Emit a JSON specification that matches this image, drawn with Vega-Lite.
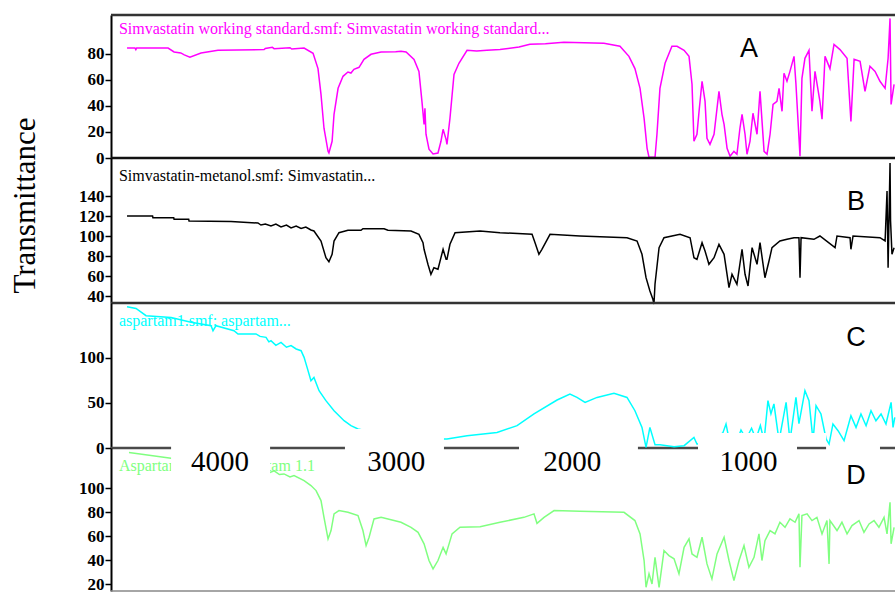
{
  "$schema": "https://vega.github.io/schema/vega-lite/v6.json",
  "padding": {"left": 8, "top": 13, "right": 0, "bottom": 0},
  "background": "white",
  "spacing": 0,
  "bounds": "flush",
  "config": {
    "view": {"stroke": null},
    "axis": {"grid": false, "domainColor": "#000", "domainWidth": 2, "tickColor": "#000", "tickWidth": 1.5, "tickSize": 6, "labelFont": "Liberation Serif", "labelFontSize": 17, "labelFontWeight": "bold", "labelColor": "#000", "labelPadding": 1, "labelOverlap": false, "labelFlush": false}
  },
  "datasets": {
    "A": [
      {"w":4525,"t":84.3},{"w":4480,"t":84.3},{"w":4475,"t":83},{"w":4470,"t":84.3},{"w":4292,"t":84.3},{"w":4258,"t":81.3},{"w":4220,"t":80.5},{"w":4200,"t":79},{"w":4168,"t":77.2},{"w":4105,"t":80.5},{"w":4009,"t":82.5},{"w":3747,"t":83.1},{"w":3740,"t":84},{"w":3700,"t":84.8},{"w":3690,"t":83.8},{"w":3600,"t":84.5},{"w":3590,"t":83.5},{"w":3520,"t":84.3},{"w":3469,"t":80.2},{"w":3441,"t":68.5},{"w":3424,"t":48.8},{"w":3407,"t":22.8},{"w":3384,"t":5.1},{"w":3379,"t":3.8},{"w":3361,"t":12.8},{"w":3350,"t":33.5},{"w":3327,"t":53.4},{"w":3299,"t":62.6},{"w":3271,"t":65.9},{"w":3254,"t":65.1},{"w":3237,"t":68},{"w":3208,"t":69.5},{"w":3180,"t":75.6},{"w":3140,"t":79.5},{"w":3083,"t":81.2},{"w":3000,"t":81.5},{"w":2970,"t":81.8},{"w":2941,"t":81.2},{"w":2896,"t":75.6},{"w":2868,"t":66.4},{"w":2851,"t":43.4},{"w":2839,"t":25.8},{"w":2834,"t":38.1},{"w":2828,"t":18.2},{"w":2811,"t":6.7},{"w":2788,"t":3.1},{"w":2760,"t":3.8},{"w":2743,"t":12.8},{"w":2731,"t":22},{"w":2714,"t":14.3},{"w":2709,"t":10.5},{"w":2692,"t":30.4},{"w":2669,"t":64.1},{"w":2641,"t":72.6},{"w":2595,"t":82.5},{"w":2540,"t":82},{"w":2482,"t":82.5},{"w":2408,"t":83.1},{"w":2300,"t":85},{"w":2238,"t":87.1},{"w":2150,"t":87.5},{"w":2045,"t":88.7},{"w":1818,"t":87.9},{"w":1727,"t":85.6},{"w":1676,"t":77.9},{"w":1642,"t":68.5},{"w":1613,"t":53.4},{"w":1590,"t":30.4},{"w":1573,"t":7.4},{"w":1562,"t":0.5},{"w":1528,"t":0.5},{"w":1517,"t":18.2},{"w":1500,"t":53.4},{"w":1471,"t":72.6},{"w":1432,"t":85.6},{"w":1403,"t":85.6},{"w":1363,"t":82.5},{"w":1335,"t":77.9},{"w":1318,"t":56.5},{"w":1307,"t":12.8},{"w":1290,"t":18.2},{"w":1278,"t":35.8},{"w":1261,"t":58.8},{"w":1244,"t":43.4},{"w":1233,"t":15.1},{"w":1216,"t":10.5},{"w":1193,"t":18.2},{"w":1165,"t":51.1},{"w":1148,"t":33.5},{"w":1136,"t":25.8},{"w":1119,"t":7.4},{"w":1102,"t":1.3},{"w":1080,"t":5.1},{"w":1063,"t":2.9},{"w":1046,"t":22.8},{"w":1034,"t":33.5},{"w":1017,"t":18.2},{"w":1006,"t":2.9},{"w":989,"t":12.8},{"w":972,"t":34.3},{"w":949,"t":18.2},{"w":932,"t":51.1},{"w":909,"t":5.1},{"w":892,"t":2.9},{"w":875,"t":18.2},{"w":858,"t":41.1},{"w":836,"t":43.4},{"w":824,"t":53.4},{"w":807,"t":35.8},{"w":796,"t":64.9},{"w":779,"t":58.8},{"w":762,"t":66.4},{"w":739,"t":77.9},{"w":728,"t":56.5},{"w":705,"t":1.3},{"w":694,"t":61.1},{"w":677,"t":76.4},{"w":654,"t":82.5},{"w":637,"t":35.8},{"w":620,"t":66.4},{"w":592,"t":43.4},{"w":580,"t":29.7},{"w":563,"t":77.9},{"w":535,"t":68.5},{"w":512,"t":87.1},{"w":478,"t":83.1},{"w":438,"t":76.4},{"w":416,"t":28.1},{"w":398,"t":75.6},{"w":364,"t":74.1},{"w":336,"t":51.1},{"w":308,"t":70.3},{"w":279,"t":66.4},{"w":251,"t":58.8},{"w":222,"t":53.4},{"w":205,"t":76.4},{"w":194,"t":107},{"w":188,"t":41.1},{"w":171,"t":56.5}
    ],
    "B": [
      {"w":4525,"t":120},{"w":4380,"t":120},{"w":4378,"t":118.3},{"w":4260,"t":118.3},{"w":4258,"t":116.7},{"w":4175,"t":116.7},{"w":4173,"t":115},{"w":3935,"t":114.5},{"w":3782,"t":113},{"w":3765,"t":111},{"w":3740,"t":112},{"w":3708,"t":110},{"w":3680,"t":112},{"w":3651,"t":109},{"w":3620,"t":111},{"w":3594,"t":108},{"w":3565,"t":110},{"w":3537,"t":107.5},{"w":3510,"t":109},{"w":3481,"t":106},{"w":3464,"t":105},{"w":3424,"t":95},{"w":3396,"t":78.3},{"w":3379,"t":74.3},{"w":3361,"t":81.7},{"w":3350,"t":95},{"w":3322,"t":103.3},{"w":3271,"t":105.7},{"w":3197,"t":105.7},{"w":3186,"t":107.3},{"w":3066,"t":107.3},{"w":3044,"t":105.7},{"w":2913,"t":105},{"w":2868,"t":101.7},{"w":2845,"t":93.3},{"w":2839,"t":86.7},{"w":2817,"t":71.7},{"w":2800,"t":61.7},{"w":2783,"t":68.3},{"w":2760,"t":66.7},{"w":2731,"t":86.7},{"w":2714,"t":76.7},{"w":2709,"t":76.7},{"w":2692,"t":91.7},{"w":2663,"t":103.3},{"w":2521,"t":105},{"w":2408,"t":103.3},{"w":2226,"t":101.7},{"w":2209,"t":93.3},{"w":2187,"t":81.7},{"w":2170,"t":86.7},{"w":2124,"t":101.7},{"w":1954,"t":100},{"w":1687,"t":98.3},{"w":1630,"t":95},{"w":1602,"t":81.7},{"w":1579,"t":58.3},{"w":1557,"t":45},{"w":1540,"t":36.7},{"w":1534,"t":32},{"w":1528,"t":52},{"w":1505,"t":88.3},{"w":1477,"t":98.3},{"w":1386,"t":101.7},{"w":1329,"t":98.3},{"w":1307,"t":78.3},{"w":1290,"t":76.7},{"w":1261,"t":93.3},{"w":1244,"t":85},{"w":1222,"t":71.7},{"w":1193,"t":78.3},{"w":1165,"t":91.7},{"w":1136,"t":81.7},{"w":1108,"t":48.3},{"w":1091,"t":61.7},{"w":1063,"t":51.7},{"w":1034,"t":86.7},{"w":1017,"t":61.7},{"w":1000,"t":50},{"w":977,"t":88.3},{"w":949,"t":71.7},{"w":932,"t":93.3},{"w":904,"t":58.3},{"w":881,"t":75},{"w":864,"t":88.3},{"w":819,"t":95},{"w":779,"t":96.7},{"w":739,"t":98.3},{"w":711,"t":98.3},{"w":705,"t":58.3},{"w":699,"t":98.3},{"w":626,"t":96.7},{"w":592,"t":100},{"w":506,"t":88.3},{"w":495,"t":100},{"w":421,"t":98.3},{"w":416,"t":86.7},{"w":404,"t":100},{"w":251,"t":98.3},{"w":222,"t":95},{"w":211,"t":145},{"w":205,"t":68.3},{"w":194,"t":173},{"w":191,"t":115},{"w":183,"t":81.7},{"w":171,"t":88.3}
    ],
    "C": [
      {"w":4525,"t":157},{"w":4474,"t":155},{"w":4417,"t":147},{"w":4275,"t":145},{"w":4162,"t":139.6},{"w":4048,"t":135.9},{"w":4037,"t":130.3},{"w":4020,"t":135.9},{"w":3918,"t":130.3},{"w":3895,"t":126.7},{"w":3793,"t":126.7},{"w":3770,"t":124},{"w":3736,"t":122.9},{"w":3720,"t":118},{"w":3708,"t":119.2},{"w":3680,"t":114},{"w":3651,"t":117.3},{"w":3620,"t":112},{"w":3594,"t":113.7},{"w":3565,"t":110},{"w":3537,"t":108.1},{"w":3520,"t":100.7},{"w":3503,"t":89.6},{"w":3481,"t":74.8},{"w":3464,"t":78.4},{"w":3435,"t":63.7},{"w":3396,"t":52.6},{"w":3350,"t":41.4},{"w":3293,"t":30.3},{"w":3254,"t":24.8},{"w":3214,"t":21.1},{"w":3000,"t":12},{"w":2726,"t":10},{"w":2709,"t":10},{"w":2595,"t":13.7},{"w":2425,"t":17.3},{"w":2311,"t":24.8},{"w":2215,"t":37.8},{"w":2084,"t":53.3},{"w":2011,"t":60},{"w":1971,"t":56.2},{"w":1925,"t":50.7},{"w":1857,"t":56.2},{"w":1761,"t":60.7},{"w":1687,"t":56.2},{"w":1642,"t":41.4},{"w":1602,"t":22.9},{"w":1579,"t":0.7},{"w":1557,"t":22.9},{"w":1528,"t":3.7},{"w":1500,"t":3.7},{"w":1420,"t":1.4},{"w":1363,"t":2.6},{"w":1307,"t":11.8},{"w":1290,"t":4.4},{"w":1210,"t":5},{"w":1142,"t":17.3},{"w":1125,"t":26.7},{"w":1108,"t":10},{"w":1068,"t":5},{"w":1040,"t":20},{"w":1011,"t":10},{"w":980,"t":22},{"w":955,"t":10},{"w":930,"t":25},{"w":909,"t":8},{"w":887,"t":52.6},{"w":870,"t":38},{"w":853,"t":49},{"w":824,"t":8},{"w":784,"t":50.7},{"w":762,"t":8},{"w":728,"t":56.2},{"w":711,"t":27},{"w":677,"t":63.7},{"w":654,"t":52.6},{"w":631,"t":8},{"w":614,"t":47},{"w":586,"t":37.8},{"w":557,"t":10},{"w":540,"t":4.4},{"w":518,"t":26.7},{"w":489,"t":19.2},{"w":455,"t":8.1},{"w":416,"t":35.9},{"w":387,"t":22.9},{"w":359,"t":37.8},{"w":330,"t":24.8},{"w":302,"t":41.4},{"w":274,"t":30.3},{"w":245,"t":37.8},{"w":217,"t":26.7},{"w":188,"t":50.7},{"w":177,"t":22.9},{"w":167,"t":34}
    ],
    "D": [
      {"w":4514,"t":129.8},{"w":4420,"t":128},{"w":4275,"t":125},{"w":3900,"t":118},{"w":3713,"t":113.3},{"w":3690,"t":114.5},{"w":3660,"t":111.5},{"w":3634,"t":112},{"w":3600,"t":109.5},{"w":3577,"t":110.6},{"w":3520,"t":106.4},{"w":3481,"t":102.3},{"w":3452,"t":98.1},{"w":3424,"t":89.8},{"w":3407,"t":75.8},{"w":3384,"t":57.8},{"w":3367,"t":64.8},{"w":3350,"t":78.7},{"w":3322,"t":81.4},{"w":3271,"t":80},{"w":3214,"t":77.3},{"w":3186,"t":64.8},{"w":3168,"t":52.3},{"w":3151,"t":59.2},{"w":3123,"t":74.5},{"w":3083,"t":75.8},{"w":2970,"t":71.7},{"w":2913,"t":67.5},{"w":2873,"t":63.3},{"w":2839,"t":53.7},{"w":2811,"t":39.8},{"w":2788,"t":32.8},{"w":2760,"t":39.8},{"w":2731,"t":50.8},{"w":2714,"t":45.3},{"w":2697,"t":53.7},{"w":2680,"t":62},{"w":2635,"t":67.5},{"w":2521,"t":68},{"w":2408,"t":71.7},{"w":2272,"t":75.8},{"w":2215,"t":78.7},{"w":2198,"t":70.8},{"w":2158,"t":75.8},{"w":2101,"t":81.4},{"w":1954,"t":80.8},{"w":1704,"t":80},{"w":1642,"t":73.1},{"w":1613,"t":62},{"w":1590,"t":39.8},{"w":1579,"t":17.5},{"w":1562,"t":28.7},{"w":1545,"t":20.3},{"w":1528,"t":42.5},{"w":1505,"t":17.5},{"w":1477,"t":48.1},{"w":1449,"t":43.9},{"w":1420,"t":41.2},{"w":1392,"t":28.7},{"w":1363,"t":50.8},{"w":1335,"t":57.8},{"w":1318,"t":45.3},{"w":1290,"t":42.5},{"w":1261,"t":59.2},{"w":1233,"t":37},{"w":1205,"t":24.5},{"w":1176,"t":45.3},{"w":1136,"t":59.2},{"w":1108,"t":39.8},{"w":1080,"t":23.1},{"w":1051,"t":39.8},{"w":1023,"t":52.3},{"w":995,"t":34.2},{"w":966,"t":42.5},{"w":938,"t":62},{"w":921,"t":39.8},{"w":904,"t":56.4},{"w":875,"t":64.8},{"w":847,"t":62},{"w":819,"t":71.7},{"w":790,"t":67.5},{"w":762,"t":74.5},{"w":733,"t":71.7},{"w":711,"t":78.7},{"w":705,"t":34.2},{"w":694,"t":77.3},{"w":665,"t":78.7},{"w":637,"t":73.1},{"w":609,"t":75.8},{"w":580,"t":62},{"w":552,"t":73.1},{"w":540,"t":37},{"w":535,"t":73.1},{"w":495,"t":64.8},{"w":467,"t":71.7},{"w":438,"t":62},{"w":410,"t":68.9},{"w":370,"t":73.1},{"w":342,"t":63.3},{"w":313,"t":70.3},{"w":285,"t":73.1},{"w":257,"t":67.5},{"w":228,"t":75.8},{"w":211,"t":62},{"w":194,"t":88.3},{"w":188,"t":53.7},{"w":171,"t":67.5}
    ]
  },
  "vconcat": [
    {
      "width": 784, "height": 143,
      "resolve": {"axis": {"x": "independent", "y": "independent"}},
      "layer": [
        {"data": {"name": "A"}, "mark": {"type": "line", "color": "#ff00ff", "strokeWidth": 1.5},
         "encoding": {
           "x": {"field": "w", "type": "quantitative", "scale": {"domain": [4616, 165.8], "nice": false, "zero": false}, "axis": null},
           "y": {"field": "t", "type": "quantitative", "scale": {"domain": [0, 109.6], "nice": false, "zero": false}, "axis": {"values": [0, 20, 40, 60, 80], "title": null, "labelOverlap": false, "labelFlush": false, "labelFontSize": 17}}
         }},
        {"data": {"values": [{}]}, "mark": {"type": "rule", "color": "#333", "strokeWidth": 2.5}, "encoding": {"y": {"datum": 109.6, "type": "quantitative", "axis": null}}},
        {"data": {"values": [{}]}, "mark": {"type": "rule", "color": "#111", "strokeWidth": 2.5}, "encoding": {"y": {"datum": 0, "type": "quantitative", "axis": null}}},
        {"data": {"values": [{"label": "Simvastatin working standard.smf: Simvastatin working standard..."}]},
         "mark": {"type": "text", "color": "#ff00ff", "font": "Liberation Serif", "fontSize": 16, "align": "left", "baseline": "alphabetic"},
         "encoding": {"x": {"datum": 4571, "type": "quantitative", "axis": null}, "y": {"datum": 94.8, "type": "quantitative", "axis": null}, "text": {"field": "label"}}},
        {"data": {"values": [{"label": "A"}]},
         "mark": {"type": "text", "color": "#000", "font": "Liberation Sans", "fontSize": 27, "align": "center", "baseline": "middle"},
         "encoding": {"x": {"datum": 994, "type": "quantitative", "axis": null}, "y": {"datum": 83.3, "type": "quantitative", "axis": null}, "text": {"field": "label"}}}
      ]
    },
    {
      "width": 784, "height": 145,
      "resolve": {"axis": {"x": "independent", "y": "independent"}},
      "layer": [
        {"data": {"name": "B"}, "mark": {"type": "line", "color": "#000", "strokeWidth": 1.5},
         "encoding": {
           "x": {"field": "w", "type": "quantitative", "scale": {"domain": [4616, 165.8], "nice": false, "zero": false}, "axis": null},
           "y": {"field": "t", "type": "quantitative", "scale": {"domain": [33, 178], "nice": false, "zero": false}, "axis": {"values": [40, 60, 80, 100, 120, 140], "labelOverlap": false, "labelFlush": false, "labelFontSize": 17, "title": "Transmittance", "titleFont": "Liberation Serif", "titleFontSize": 31, "titleFontWeight": "normal", "titleColor": "#000", "titleAngle": 270, "titleX": -77, "titleY": 47, "titleAlign": "center", "titleBaseline": "alphabetic"}}
         }},
        {"data": {"values": [{}]}, "mark": {"type": "rule", "color": "#333", "strokeWidth": 2.5}, "encoding": {"y": {"datum": 33, "type": "quantitative", "axis": null}}},
        {"data": {"values": [{"label": "Simvastatin-metanol.smf: Simvastatin..."}]},
         "mark": {"type": "text", "color": "#000", "font": "Liberation Serif", "fontSize": 16, "align": "left", "baseline": "alphabetic"},
         "encoding": {"x": {"datum": 4571, "type": "quantitative", "axis": null}, "y": {"datum": 155, "type": "quantitative", "axis": null}, "text": {"field": "label"}}},
        {"data": {"values": [{"label": "B"}]},
         "mark": {"type": "text", "color": "#000", "font": "Liberation Sans", "fontSize": 27, "align": "center", "baseline": "middle"},
         "encoding": {"x": {"datum": 387, "type": "quantitative", "axis": null}, "y": {"datum": 134, "type": "quantitative", "axis": null}, "text": {"field": "label"}}}
      ]
    },
    {
      "width": 784, "height": 145,
      "resolve": {"axis": {"x": "independent", "y": "independent"}},
      "layer": [
        {"data": {"values": [{}]}, "mark": {"type": "rule", "color": "#4a4a4a", "strokeWidth": 2.5}, "encoding": {"y": {"datum": 0, "type": "quantitative", "axis": null, "scale": {"domain": [0, 161.1], "nice": false, "zero": false}}}},
        {"data": {"name": "C"}, "mark": {"type": "line", "color": "#00ffff", "strokeWidth": 1.5},
         "encoding": {
           "x": {"field": "w", "type": "quantitative", "scale": {"domain": [4616, 165.8], "nice": false, "zero": false}, "axis": null},
           "y": {"field": "t", "type": "quantitative", "scale": {"domain": [0, 161.1], "nice": false, "zero": false}, "axis": {"values": [0, 50, 100], "title": null, "labelOverlap": false, "labelFlush": false, "labelFontSize": 17}}
         }},
        {"data": {"values": [{"label": "aspartam1.smf: aspartam..."}]},
         "mark": {"type": "text", "color": "#00ffff", "font": "Liberation Serif", "fontSize": 16, "align": "left", "baseline": "alphabetic"},
         "encoding": {"x": {"datum": 4571, "type": "quantitative", "axis": null}, "y": {"datum": 135.9, "type": "quantitative", "axis": null}, "text": {"field": "label"}}},
        {"data": {"values": [{"label": "C"}]},
         "mark": {"type": "text", "color": "#000", "font": "Liberation Sans", "fontSize": 27, "align": "center", "baseline": "middle"},
         "encoding": {"x": {"datum": 387, "type": "quantitative", "axis": null}, "y": {"datum": 122.6, "type": "quantitative", "axis": null}, "text": {"field": "label"}}}
      ]
    },
    {
      "width": 784, "height": 143,
      "resolve": {"axis": {"x": "independent", "y": "independent"}},
      "layer": [
        {"data": {"name": "D"}, "mark": {"type": "line", "color": "#80ff80", "strokeWidth": 1.5},
         "encoding": {
           "x": {"field": "w", "type": "quantitative", "scale": {"domain": [4616, 165.8], "nice": false, "zero": false}, "axis": {"orient": "top", "values": [4000, 3000, 2000, 1000], "format": "d", "domain": false, "ticks": false, "tickSize": 0, "labelFontSize": 29, "labelFontWeight": "normal", "labelBaseline": "middle", "labelPadding": -13, "labelAngle": 0, "labelOverlap": false, "labelFlush": false, "zindex": 1, "title": null}},
           "y": {"field": "t", "type": "quantitative", "scale": {"domain": [14.4, 133.6], "nice": false, "zero": false}, "axis": {"values": [20, 40, 60, 80, 100], "title": null, "labelOverlap": false, "labelFlush": false, "labelFontSize": 17}}
         }},
        {"data": {"values": [{}]}, "mark": {"type": "rule", "color": "#888", "strokeWidth": 1.5}, "encoding": {"y": {"datum": 14.4, "type": "quantitative", "axis": null}}},
        {"data": {"values": [{"label": "Aspartam 1.smf: Aspartam 1.1"}]},
         "mark": {"type": "text", "color": "#80ff80", "font": "Liberation Serif", "fontSize": 16, "align": "left", "baseline": "alphabetic"},
         "encoding": {"x": {"datum": 4571, "type": "quantitative", "axis": null}, "y": {"datum": 114.7, "type": "quantitative", "axis": null}, "text": {"field": "label"}}},
        {"data": {"values": [{}]}, "mark": {"type": "rect", "color": "white"},
         "encoding": {"x": {"datum": 4275, "type": "quantitative", "axis": null}, "x2": {"datum": 3713}, "y": {"datum": 149.4, "type": "quantitative", "axis": null}, "y2": {"datum": 109.4}}},
        {"data": {"values": [{}]}, "mark": {"type": "rect", "color": "white"},
         "encoding": {"x": {"datum": 3288, "type": "quantitative", "axis": null}, "x2": {"datum": 2726}, "y": {"datum": 149.4, "type": "quantitative", "axis": null}, "y2": {"datum": 109.4}}},
        {"data": {"values": [{}]}, "mark": {"type": "rect", "color": "white"},
         "encoding": {"x": {"datum": 2300, "type": "quantitative", "axis": null}, "x2": {"datum": 1625}, "y": {"datum": 141.9, "type": "quantitative", "axis": null}, "y2": {"datum": 109.4}}},
        {"data": {"values": [{}]}, "mark": {"type": "rect", "color": "white"},
         "encoding": {"x": {"datum": 1284, "type": "quantitative", "axis": null}, "x2": {"datum": 722}, "y": {"datum": 146.1, "type": "quantitative", "axis": null}, "y2": {"datum": 109.4}}},
        {"data": {"values": [{}]}, "mark": {"type": "rect", "color": "white"},
         "encoding": {"x": {"datum": 722, "type": "quantitative", "axis": null}, "x2": {"datum": 557}, "y": {"datum": 146.1, "type": "quantitative", "axis": null}, "y2": {"datum": 135.1}}},
        {"data": {"values": [{}]}, "mark": {"type": "rect", "color": "white"},
         "encoding": {"x": {"datum": 557, "type": "quantitative", "axis": null}, "x2": {"datum": 251}, "y": {"datum": 135.3, "type": "quantitative", "axis": null}, "y2": {"datum": 131.1}}},
        {"data": {"values": [{"label": "D"}]},
         "mark": {"type": "text", "color": "#000", "font": "Liberation Sans", "fontSize": 27, "align": "center", "baseline": "middle"},
         "encoding": {"x": {"datum": 387, "type": "quantitative", "axis": null}, "y": {"datum": 110.6, "type": "quantitative", "axis": null}, "text": {"field": "label"}}}
      ]
    }
  ]
}
